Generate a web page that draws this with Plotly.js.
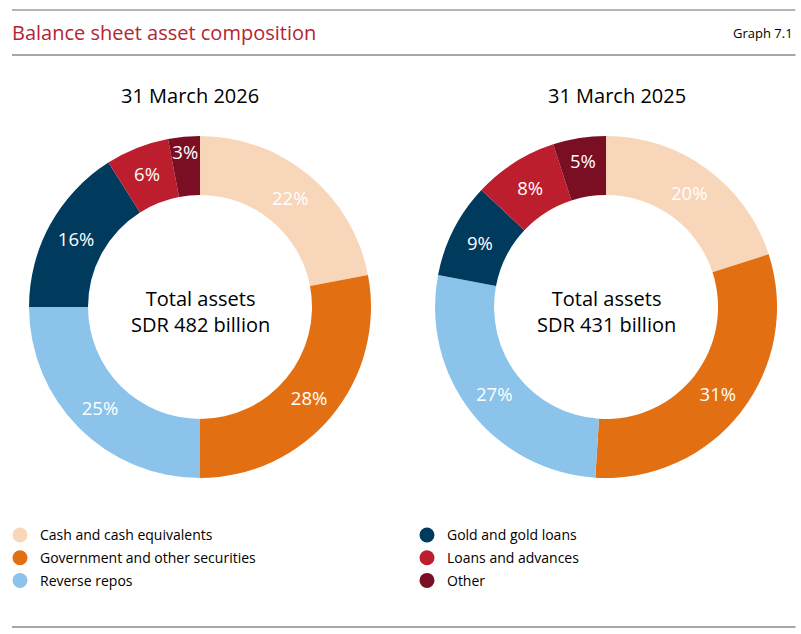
<!DOCTYPE html>
<html>
<head>
<meta charset="utf-8">
<script src="https://cdn.plot.ly/plotly-3.0.1.min.js"></script>
<style>
  html, body { margin: 0; padding: 0; background: #fff; }
  #chart { width: 801px; height: 634px; }
</style>
</head>
<body>
<div id="chart"></div>
<script>
// asset composition donuts, two balance sheet dates

var categories = ['Cash and cash equivalents', 'Government and other securities', 'Reverse repos',
                  'Gold and gold loans', 'Loans and advances', 'Other'];
var colours = ['#f8d6ba', '#e36f13', '#8bc3ea', '#003a5d', '#bd1e2e', '#7a0f23'];

var share2026 = [22, 28, 25, 16, 6, 3];
var share2025 = [20, 31, 27, 9, 8, 5];

var dates = ['31 March 2026', '31 March 2025'];
var totals = ['482', '431'];

var fontName = 'Open Sans, Noto Sans, sans-serif';

function donut(values, xdom) {
    return {
        type: 'pie',
        values: values,
        labels: categories,
        sort: false,
        direction: 'clockwise',
        rotation: 0,
        hole: 0.655,
        marker: {colors: colours, line: {width: 0}},
        texttemplate: '%{value}%',
        textposition: 'inside',
        insidetextorientation: 'horizontal',
        insidetextfont: {color: '#ffffff', size: 18.5, family: fontName},
        hoverinfo: 'label+value',
        showlegend: false,
        domain: {x: xdom, y: [0.2461, 0.7855]}
    };
}

var trace = [];
trace.push(donut(share2026, [0.0362, 0.4632]));
trace.push(donut(share2025, [0.5431, 0.9701]));

// legend entries as dots, split in two columns
var i;
for (i = 0; i < categories.length; i++) {
    trace.push({
        type: 'scatter',
        mode: 'markers',
        x: [null],
        y: [null],
        name: categories[i],
        legendgroup: 'g' + i,
        marker: {color: colours[i], size: 15, symbol: 'circle'},
        legend: i < 3 ? 'legend' : 'legend2',
        hoverinfo: 'skip'
    });
}

var lineGrey = '#8a8a8a';

var legendFont = {size: 14, family: fontName, color: '#000000'};

var layout = {
    width: 801,
    height: 634,
    margin: {l: 0, r: 0, t: 0, b: 0},
    paper_bgcolor: '#ffffff',
    plot_bgcolor: '#ffffff',
    font: {family: fontName, color: '#000000'},
    // keep slice labels at full size, even where they spill over (like the 3%)
    uniformtext: {mode: 'show', minsize: 18.5},
    showlegend: true,
    xaxis: {visible: false, domain: [0, 0.01]},
    yaxis: {visible: false, domain: [0, 0.01]},
    legend: {
        x: 0.0, y: 0.12, xanchor: 'left', yanchor: 'middle',
        font: legendFont, tracegroupgap: 1.5,
        itemsizing: 'trace', bgcolor: 'rgba(0,0,0,0)'
    },
    legend2: {
        x: 0.5081, y: 0.12, xanchor: 'left', yanchor: 'middle',
        font: legendFont, tracegroupgap: 1.5,
        itemsizing: 'trace', bgcolor: 'rgba(0,0,0,0)'
    },
    shapes: [
        {type: 'line', xref: 'paper', yref: 'paper', x0: 0.015, x1: 0.993, y0: 1 - 10/634, y1: 1 - 10/634,
         line: {color: '#b4b4b4', width: 2}},
        {type: 'line', xref: 'paper', yref: 'paper', x0: 0.015, x1: 0.993, y0: 1 - 55/634, y1: 1 - 55/634,
         line: {color: lineGrey, width: 1.5}},
        {type: 'line', xref: 'paper', yref: 'paper', x0: 0.015, x1: 0.993, y0: 1 - 627/634, y1: 1 - 627/634,
         line: {color: lineGrey, width: 1.5}}
    ],
    annotations: [
        {text: 'Balance sheet asset composition', xref: 'paper', yref: 'paper', x: 0.013, y: 1 - 32/634,
         xanchor: 'left', yanchor: 'middle', showarrow: false,
         font: {size: 20, color: '#b52532', family: fontName}},
        {text: 'Graph 7.1', xref: 'paper', yref: 'paper', x: 0.992, y: 1 - 33/634,
         xanchor: 'right', yanchor: 'middle', showarrow: false,
         font: {size: 13, color: '#000000', family: fontName}},
        {text: dates[0], xref: 'paper', yref: 'paper', x: 190/801, y: 1 - 96/634,
         xanchor: 'center', yanchor: 'middle', showarrow: false, font: {size: 20}},
        {text: dates[1], xref: 'paper', yref: 'paper', x: 617/801, y: 1 - 96/634,
         xanchor: 'center', yanchor: 'middle', showarrow: false, font: {size: 20}},
        {text: 'Total assets<br>SDR ' + totals[0] + ' billion', xref: 'paper', yref: 'paper', x: 200/801, y: 1 - 311/634,
         xanchor: 'center', yanchor: 'middle', showarrow: false, font: {size: 20}},
        {text: 'Total assets<br>SDR ' + totals[1] + ' billion', xref: 'paper', yref: 'paper', x: 606/801, y: 1 - 311/634,
         xanchor: 'center', yanchor: 'middle', showarrow: false, font: {size: 20}}
    ]
};

Plotly.newPlot('chart', trace, layout, {displayModeBar: false, staticPlot: true});
</script>
</body>
</html>
